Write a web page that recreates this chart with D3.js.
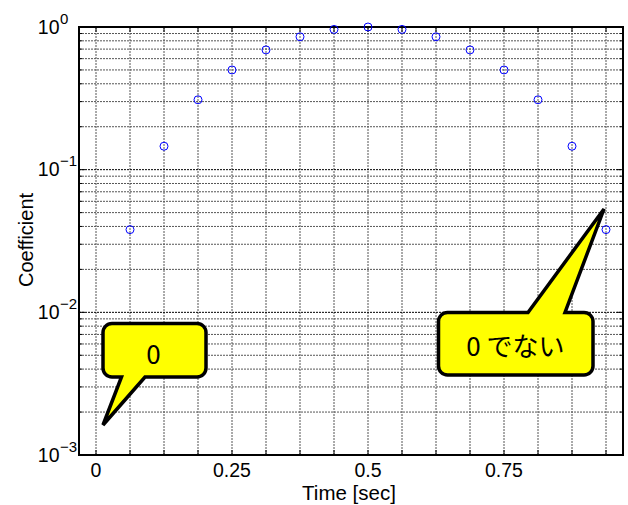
<!DOCTYPE html>
<html><head><meta charset="utf-8">
<script src="https://cdn.jsdelivr.net/npm/d3@7"></script>
<style>body{margin:0;background:#fff}svg{display:block}</style>
</head><body>
<svg id="c" width="628" height="505"></svg>
<script>
// Data
const times = [0.0625,0.125,0.1875,0.25,0.3125,0.375,0.4375,0.5,0.5625,0.625,0.6875,0.75,0.8125,0.875,0.9375];
const coefficients = [0.038,0.146,0.309,0.5,0.691,0.854,0.962,1.0,0.962,0.854,0.691,0.5,0.309,0.146,0.038];
const xTicks = [0,0.0625,0.125,0.1875,0.25,0.3125,0.375,0.4375,0.5,0.5625,0.625,0.6875,0.75,0.8125,0.875,0.9375];
const xTickLabels = ["0","","","","0.25","","","","0.5","","","","0.75","","",""];
const yDecades = [-3,-2,-1,0];
const yDecadeLabels = ["10","10","10","10"];
const yExponents = ["−3","−2","−1","0"];
const callouts = [
  {text:"0"},
  {text:"0 でない"}
];

const svg = d3.select("#c");
const L=79, T=27, R=623, B=455;
const x = d3.scaleLinear().domain([-1/32, 31/32]).range([L, R]);
const y = d3.scaleLog().domain([1e-3, 1]).range([B, T]);

const minorVals = [];
for (let d=-3; d<0; d++) for (let m=2; m<=9; m++) minorVals.push(m*Math.pow(10,d));
const majorVals = yDecades.map(d=>Math.pow(10,d));

const grid = svg.append("g");
grid.selectAll("line.vg").data(xTicks).join("line")
  .attr("x1",d=>x(d)).attr("x2",d=>x(d)).attr("y1",T).attr("y2",B)
  .attr("stroke","#555").attr("stroke-width",1).attr("stroke-dasharray","2,1");
grid.selectAll("line.mg").data(minorVals).join("line")
  .attr("x1",L).attr("x2",R).attr("y1",d=>y(d)).attr("y2",d=>y(d))
  .attr("stroke","#555").attr("stroke-width",1).attr("stroke-dasharray","2,1");
grid.selectAll("line.Mg").data(majorVals.slice(1,3)).join("line")
  .attr("x1",L).attr("x2",R).attr("y1",d=>y(d)).attr("y2",d=>y(d))
  .attr("stroke","#000").attr("stroke-width",1).attr("stroke-dasharray","2,1");

const ax = svg.append("g");
xTicks.forEach(t=>{
  ax.append("line").attr("x1",x(t)).attr("x2",x(t)).attr("y1",B).attr("y2",B-5).attr("stroke","#000").attr("stroke-width",1);
  ax.append("line").attr("x1",x(t)).attr("x2",x(t)).attr("y1",T).attr("y2",T+5).attr("stroke","#000").attr("stroke-width",1);
});
minorVals.forEach(v=>{
  ax.append("line").attr("x1",L).attr("x2",L+3).attr("y1",y(v)).attr("y2",y(v)).attr("stroke","#000").attr("stroke-width",1);
  ax.append("line").attr("x1",R).attr("x2",R-3).attr("y1",y(v)).attr("y2",y(v)).attr("stroke","#000").attr("stroke-width",1);
});
majorVals.forEach(v=>{
  ax.append("line").attr("x1",L).attr("x2",L+6).attr("y1",y(v)).attr("y2",y(v)).attr("stroke","#000").attr("stroke-width",1);
  ax.append("line").attr("x1",R).attr("x2",R-6).attr("y1",y(v)).attr("y2",y(v)).attr("stroke","#000").attr("stroke-width",1);
});
svg.append("rect").attr("x",L).attr("y",T).attr("width",R-L).attr("height",B-T)
  .attr("fill","none").attr("stroke","#000").attr("stroke-width",2);

const font = "'Liberation Sans', Arial, sans-serif";
xTicks.forEach((t,i)=>{
  if(!xTickLabels[i]) return;
  svg.append("text").attr("x",x(t)).attr("y",477).attr("text-anchor","middle")
    .attr("font-family",font).attr("font-size",19.5).attr("fill","#000").text(xTickLabels[i]);
});
yDecades.forEach((d,i)=>{
  const yy = y(Math.pow(10,d));
  svg.append("text").attr("x",59.5).attr("y",yy+6.5).attr("text-anchor","end")
    .attr("font-family",font).attr("font-size",19.5).attr("fill","#000").text(yDecadeLabels[i]);
  svg.append("text").attr("x",60).attr("y",yy-3.5).attr("text-anchor","start")
    .attr("font-family",font).attr("font-size",15).attr("fill","#000").text(yExponents[i]);
});
svg.append("text").attr("x",349).attr("y",500).attr("text-anchor","middle")
  .attr("font-family",font).attr("font-size",20.5).text("Time [sec]");
svg.append("text").attr("transform",`translate(33,${(T+B)/2-1}) rotate(-90)`).attr("text-anchor","middle")
  .attr("font-family",font).attr("font-size",20).text("Coefficient");

svg.append("g").selectAll("circle").data(times).join("circle")
  .attr("cx",d=>x(d)).attr("cy",(d,i)=>y(coefficients[i])).attr("r",4)
  .attr("fill","none").attr("stroke","#0000ff").attr("stroke-width",1);

function calloutPath(x0,y0,x1,y1,r,tailA,tailB,tip,side){
  const p = d3.path();
  p.moveTo(x0+r,y0);
  if(side==='top'){ p.lineTo(tailA,y0); p.lineTo(tip[0],tip[1]); p.lineTo(tailB,y0); }
  p.lineTo(x1-r,y0); p.arcTo(x1,y0,x1,y0+r,r);
  p.lineTo(x1,y1-r); p.arcTo(x1,y1,x1-r,y1,r);
  if(side==='bottom'){ p.lineTo(tailB,y1); p.lineTo(tip[0],tip[1]); p.lineTo(tailA,y1); }
  p.lineTo(x0+r,y1); p.arcTo(x0,y1,x0,y1-r,r);
  p.lineTo(x0,y0+r); p.arcTo(x0,y0,x0+r,y0,r);
  p.closePath();
  return p.toString();
}
const cg = svg.append("g");
cg.append("path").attr("d",calloutPath(103,323.5,206,377,9,121.5,145,[103,425],'bottom'))
  .attr("fill","#ffff00").attr("stroke","#000").attr("stroke-width",3.5).attr("stroke-linejoin","miter");
cg.append("text").attr("x",153.5).attr("y",363.5).attr("text-anchor","middle")
  .attr("font-family","'Noto Sans CJK JP', sans-serif").attr("font-size",26).text(callouts[0].text);
cg.append("path").attr("d",calloutPath(438.5,312.5,593,375,9,528,565,[604,209],'top'))
  .attr("fill","#ffff00").attr("stroke","#000").attr("stroke-width",3.5).attr("stroke-linejoin","miter");
cg.append("text").attr("x",515.5).attr("y",355.5).attr("text-anchor","middle")
  .attr("font-family","'Noto Sans CJK JP', sans-serif").attr("font-size",26).text(callouts[1].text);
</script>
</body></html>
